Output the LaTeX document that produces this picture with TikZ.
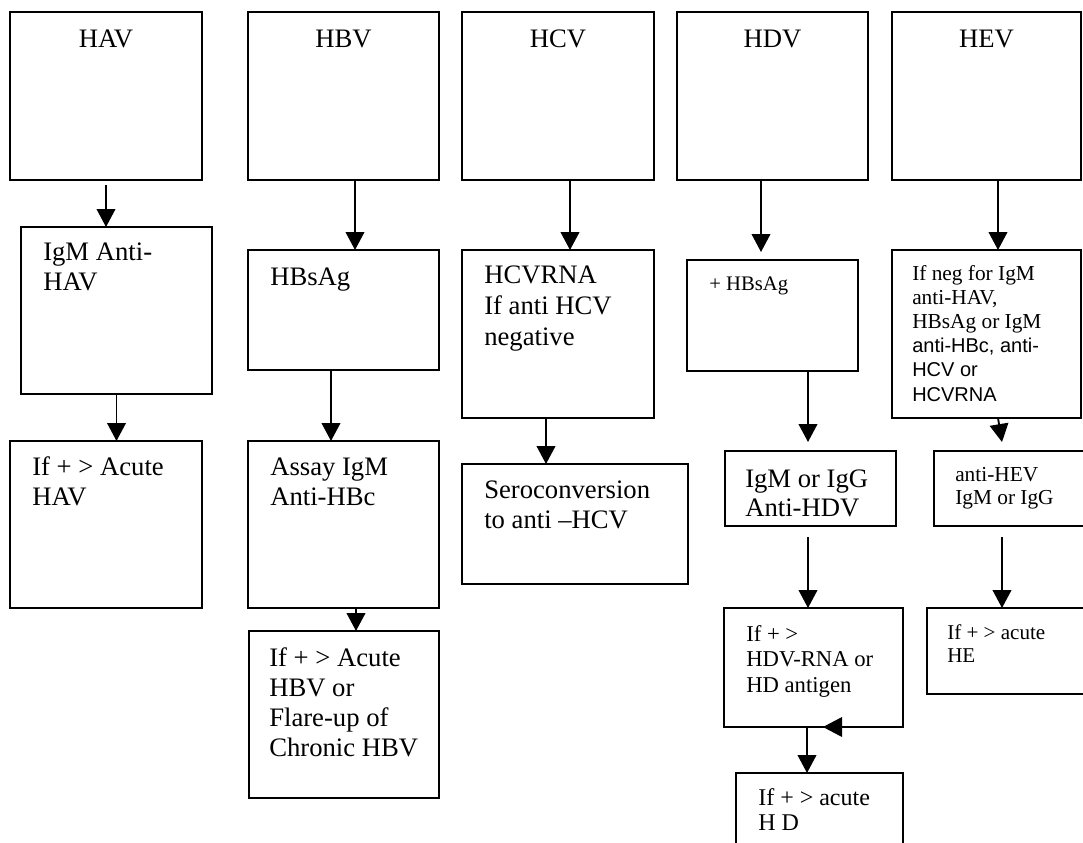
\documentclass[tikz,border=0pt]{standalone}
\usepackage{fontspec}
\setmainfont{Liberation Serif}
\newfontfamily\arialf{Liberation Sans}
\usetikzlibrary{arrows.meta,calc}
\newcommand\mkbox[5]{\node[boxst, minimum width={(#4-#2)*0.75pt}, minimum height={(#5-#3)*0.75pt}] (#1) at (#2,#3) {};}
\begin{document}
\begin{tikzpicture}[x=0.75pt,y=-0.75pt,
  boxst/.style={draw, line width=1.4pt, inner sep=0pt, outer sep=0pt, anchor=north west},
  arr/.style={line width=1.4pt, -{Triangle[width=14pt,length=13.5pt]}},
  txt/.style={inner sep=0pt, anchor=base west, align=left, font=\fontsize{20}{22.5}\selectfont},
  headst/.style={inner sep=0pt, anchor=base, font=\fontsize{20}{22.5}\selectfont}]
\useasboundingbox (0,0) rectangle (1083,843);
\clip (0,0) rectangle (1083,843);
% top boxes
\mkbox{hav}{10}{12}{202}{180}
\mkbox{hbv}{248}{12}{439}{180}
\mkbox{hcv}{462}{12}{654}{180}
\mkbox{hdv}{677}{12}{868}{180}
\mkbox{hev}{892}{12}{1081}{180}
% HAV column
\mkbox{igmhav}{21}{227}{212}{394}
\mkbox{ifhav}{10}{441}{202}{608}
% HBV column
\mkbox{hbsag}{248}{250}{439}{370}
\mkbox{assay}{248}{441}{439}{608}
\mkbox{ifhbv}{249}{631}{439}{798}
% HCV column
\mkbox{hcvrna}{462}{250}{654}{418}
\mkbox{sero}{462}{464}{688}{584}
% HDV column
\mkbox{phbsag}{687}{260}{858}{371}
\mkbox{igmigg}{725}{451}{896}{526}
\mkbox{hdvrna}{724}{608}{903}{727}
\mkbox{hdbox}{736}{773}{903}{870}
% HEV column
\mkbox{hevneg}{892}{250}{1081}{418}
\mkbox{antihev}{934}{451}{1110}{526}
\mkbox{hebox}{927}{608}{1110}{694}
% headers
\node[headst] (t-hav) at (106,47) {HAV};
\node[headst] (t-hbv) at (343.5,47) {HBV};
\node[headst] (t-hcv) at (558,47) {HCV};
\node[headst] (t-hdv) at (772.5,47) {HDV};
\node[headst] (t-hev) at (986.5,47) {HEV};
% texts (anchor = baseline of the last line)
\node[txt] (t-igmhav) at (43,290) {IgM Anti-\\HAV};
\node[txt] (t-ifhav) at (32,505) {If + > Acute\\HAV};
\node[txt] (t-hbsag) at (270,285) {HBsAg};
\node[txt] (t-assay) at (270,505) {Assay IgM\\Anti-HBc};
\node[txt] (t-ifhbv) at (269,756) {If + > Acute\\HBV or\\Flare-up of\\Chronic HBV};
\node[txt, font=\fontsize{20}{23.25}\selectfont] (t-hcvrna) at (484,345) {HCVRNA\\If anti HCV\\negative};
\node[txt] (t-sero) at (484,528) {Seroconversion\\to anti –HCV};
\node[txt, font=\fontsize{15.5}{18}\selectfont] (t-phbsag) at (709,290) {+ HBsAg};
\node[txt, font=\fontsize{20}{21.75}\selectfont] (t-igmigg) at (745,516) {IgM or IgG\\Anti-HDV};
\node[txt, font=\fontsize{17}{18.9}\selectfont] (t-hdvrna) at (746,692) {If + >\\HDV-RNA or\\HD antigen};
\node[txt, font=\fontsize{18}{18.75}\selectfont] (t-hd) at (758,830) {If + > acute\\H D};
\node[txt, font=\fontsize{16}{18.15}\selectfont] (t-hevneg) at (912,401) {If neg for IgM\\anti-HAV,\\HBsAg or IgM\\{\arialf\fontsize{15}{18.15}\selectfont anti-HBc, anti-}\\{\arialf\fontsize{15}{18.15}\selectfont HCV or}\\{\arialf\fontsize{15}{18.15}\selectfont HCVRNA}};
\node[txt, font=\fontsize{16}{17.25}\selectfont] (t-antihev) at (955,504) {anti-HEV\\IgM or IgG};
\node[txt, font=\fontsize{15.8}{17}\selectfont] (t-he) at (947,662) {If + > acute\\HE};
% arrows
\draw[arr] ($(hav.south)+(0,5)$) -- (hav.south |- igmhav.north);
\draw[arr] (igmhav.south) -- (igmhav.south |- ifhav.north);
\draw[arr] ($(hbv.south)+(11.5,0)$) -- ($(hbsag.north)+(11.5,0)$);
\draw[arr] ($(hbsag.south)+(-12.5,0)$) -- ($(assay.north)+(-12.5,0)$);
\draw[arr] ($(assay.south)+(12.5,0)$) -- ($(ifhbv.north)+(12,0)$);
\draw[arr] ($(hcv.south)+(12,0)$) -- ($(hcvrna.north)+(12,0)$);
\draw[arr] ($(hcvrna.south)+(-12,0)$) -- ($(sero.north)+(-29,0)$);
\draw[arr] ($(hdv.south)+(-11.5,0)$) -- ($(phbsag.north)+(-11.5,-8)$);
\draw[arr] ($(phbsag.south)+(35.5,0)$) -- ($(igmigg.north)+(-2.5,-9)$);
\draw[arr] ($(igmigg.south)+(-2.5,11)$) -- ($(hdvrna.north)+(-5.5,0)$);
\draw[arr] ($(hdvrna.south)+(-6.5,0)$) -- ($(hdbox.north)+(-12.5,0)$);
\draw[arr] ($(hev.south)+(11.5,0)$) -- ($(hevneg.north)+(11.5,0)$);
\draw[arr] ($(hevneg.south)+(11.5,0)$) -- ($(antihev.north)+(-20,-9)$);
\draw[arr] ($(antihev.south)+(-20,11)$) -- ($(hebox.north)+(-16.5,0)$);
% stray left-pointing arrowhead on the bottom edge of the HDV-RNA box
\fill ($(hdvrna.south west)+(99,0)$) -- ++(19,-10) -- ++(0,20) -- cycle;
\end{tikzpicture}
\end{document}
